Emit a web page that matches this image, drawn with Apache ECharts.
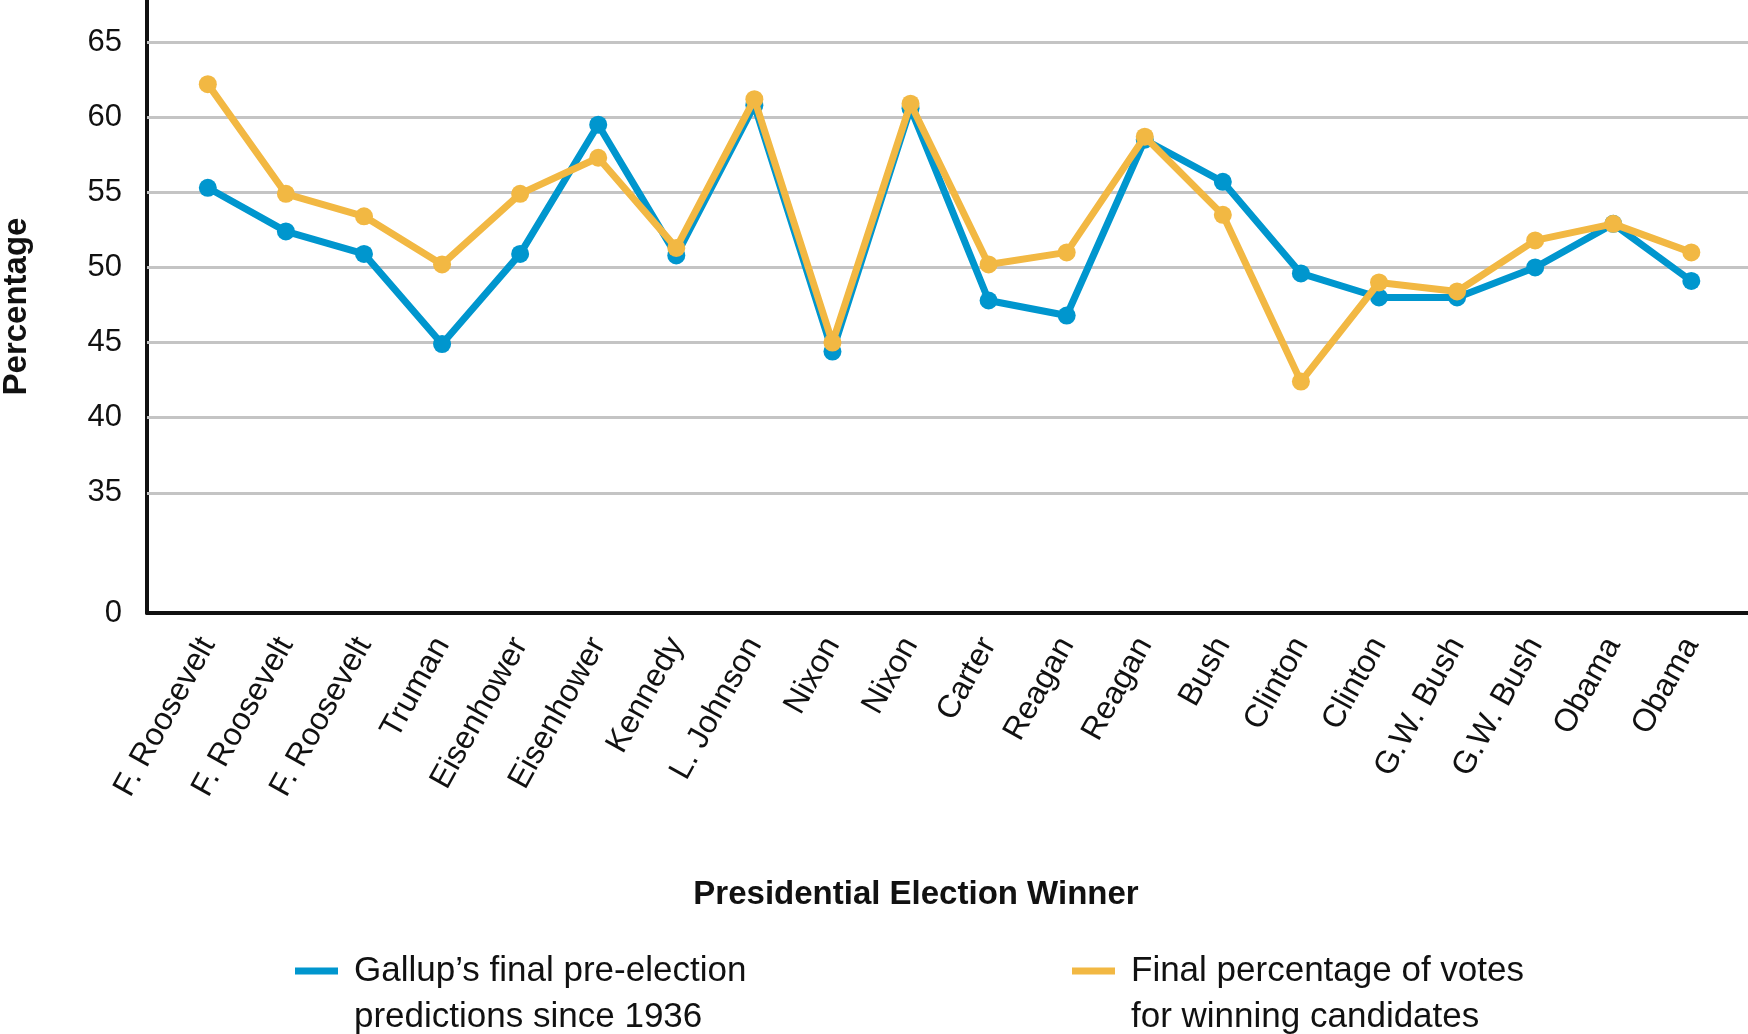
<!DOCTYPE html>
<html>
<head>
<meta charset="utf-8">
<script src="https://cdn.jsdelivr.net/npm/echarts@6/dist/echarts.min.js"></script>
<style>
html,body{margin:0;padding:0;background:#fff;}
#chart{width:1748px;height:1034px;}
</style>
</head>
<body>
<div id="chart"></div>
<script>
// ---- data ----
const categories = ['F. Roosevelt','F. Roosevelt','F. Roosevelt','Truman','Eisenhower','Eisenhower','Kennedy','L. Johnson','Nixon','Nixon','Carter','Reagan','Reagan','Bush','Clinton','Clinton','G.W. Bush','G.W. Bush','Obama','Obama'];
const gallupPredictions = [55.3,52.4,50.9,44.9,50.9,59.5,50.8,60.8,44.4,60.6,47.8,46.8,58.5,55.7,49.6,48.0,48.0,50.0,52.9,49.1];
const winnerVotes = [62.2,54.9,53.4,50.2,54.9,57.3,51.3,61.2,45.0,60.9,50.2,51.0,58.7,53.5,42.4,49.0,48.4,51.8,52.9,51.0];
const yTickValues = [35,40,45,50,55,60,65];
const yZeroLabel = '0';
const seriesNames = ['Gallup\u2019s final pre-election\npredictions since 1936','Final percentage of votes\nfor winning candidates'];
const xAxisTitle = 'Presidential Election Winner';
const yAxisTitle = 'Percentage';

// axis break: the "0" label sits at the bottom of the broken axis
const Y_BOTTOM = 27, Y_TOP = 67.8;
const BLUE = '#0096CE', GOLD = '#F2B843';
const FONT = '"Liberation Sans", Arial, Helvetica, sans-serif';

const xIdx = categories.map((c, i) => i);
const toPairs = arr => arr.map((v, i) => [i, v]);
const legendIcon = 'path://M0,0H43V7H0Z M0,53H0.05V53.05H0Z';

const legendText = {fontFamily: FONT, fontSize: 35, lineHeight: 46, color: '#111', padding: [0, 0, 0, 11]};

const chart = echarts.init(document.getElementById('chart'), null, {renderer: 'canvas'});
chart.setOption({
  backgroundColor: '#ffffff',
  animation: false,
  grid: {left: 147, right: 0, top: 0, bottom: 421, containLabel: false, outerBoundsMode: 'none'},
  xAxis: {
    type: 'value',
    min: -0.779, max: 19.726,
    name: xAxisTitle,
    nameLocation: 'middle',
    nameGap: 265,
    nameTextStyle: {fontFamily: FONT, fontSize: 33, fontWeight: 'bold', color: '#111', padding: [0, 63, 0, 0]},
    axisLine: {show: true, onZero: false, lineStyle: {color: '#111', width: 4}},
    axisTick: {show: false, customValues: xIdx},
    splitLine: {show: false},
    axisLabel: {
      customValues: xIdx,
      rotate: 61,
      margin: 27,
      fontFamily: FONT, fontSize: 32, color: '#111',
      formatter: v => categories[Math.round(v)]
    }
  },
  yAxis: {
    type: 'value',
    min: Y_BOTTOM, max: Y_TOP,
    name: yAxisTitle,
    nameLocation: 'middle',
    nameRotate: 90,
    nameGap: 114,
    nameTextStyle: {fontFamily: FONT, fontSize: 33, fontWeight: 'bold', color: '#111'},
    axisLine: {show: true, onZero: false, lineStyle: {color: '#111', width: 4}},
    axisTick: {show: false, customValues: [Y_BOTTOM].concat(yTickValues)},
    splitLine: {show: false},
    axisLabel: {
      customValues: [Y_BOTTOM].concat(yTickValues),
      margin: 25,
      fontFamily: FONT, fontSize: 31, color: '#111',
      formatter: v => (Math.abs(v - Y_BOTTOM) < 1e-6 ? yZeroLabel : String(v))
    }
  },
  legend: [
    {
      data: [seriesNames[0]], left: 295, top: 948, padding: 0,
      icon: legendIcon, itemWidth: 43, itemHeight: 53, symbolKeepAspect: false,
      itemStyle: {borderWidth: 0},
      textStyle: legendText,
      selectedMode: false
    },
    {
      data: [seriesNames[1]], left: 1072, top: 948, padding: 0,
      icon: legendIcon, itemWidth: 43, itemHeight: 53, symbolKeepAspect: false,
      itemStyle: {borderWidth: 0},
      textStyle: legendText,
      selectedMode: false
    }
  ],
  series: [
    {
      name: seriesNames[0],
      type: 'line',
      data: toPairs(gallupPredictions),
      color: BLUE,
      symbol: 'circle', symbolSize: 18,
      lineStyle: {width: 7, color: BLUE},
      itemStyle: {color: BLUE},
      z: 3,
      markLine: {
        silent: true, symbol: 'none', z: 1,
        label: {show: false},
        lineStyle: {color: '#C4C4C4', width: 3, type: 'solid'},
        emphasis: {disabled: true},
        data: yTickValues.map(v => ({yAxis: v}))
      }
    },
    {
      name: seriesNames[1],
      type: 'line',
      data: toPairs(winnerVotes),
      color: GOLD,
      symbol: 'circle', symbolSize: 18,
      lineStyle: {width: 7, color: GOLD},
      itemStyle: {color: GOLD},
      z: 4
    }
  ]
});
</script>
</body>
</html>
